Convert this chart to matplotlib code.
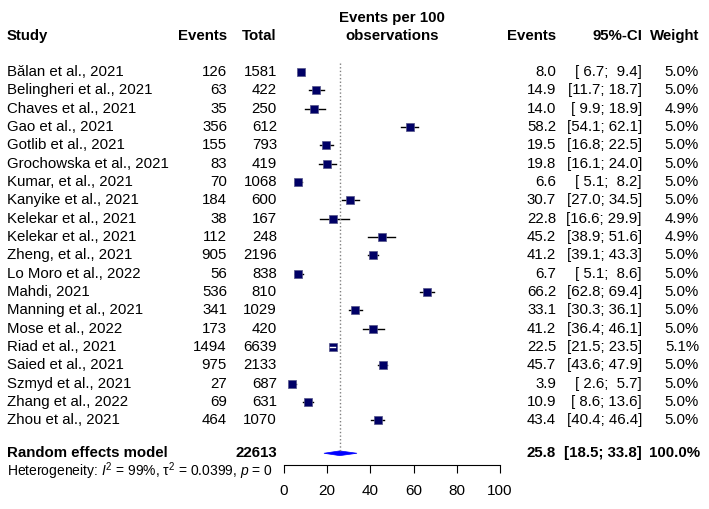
import matplotlib
matplotlib.use("Agg")
from matplotlib import pyplot as plt
from matplotlib import transforms
from matplotlib.patches import Polygon

plt.rcParams['font.family'] = ['Liberation Sans', 'DejaVu Sans']
plt.rcParams['mathtext.fontset'] = 'custom'
plt.rcParams['mathtext.rm'] = 'Liberation Sans'
plt.rcParams['mathtext.it'] = 'Liberation Sans:italic'

studies = ['Bălan et al., 2021', 'Belingheri et al., 2021', 'Chaves et al., 2021', 'Gao et al., 2021',
           'Gotlib et al., 2021', 'Grochowska et al., 2021', 'Kumar, et al., 2021', 'Kanyike et al., 2021',
           'Kelekar et al., 2021', 'Kelekar et al., 2021', 'Zheng, et al., 2021', 'Lo Moro et al., 2022',
           'Mahdi, 2021', 'Manning et al., 2021', 'Mose et al., 2022', 'Riad et al., 2021',
           'Saied et al., 2021', 'Szmyd et al., 2021', 'Zhang et al., 2022', 'Zhou et al., 2021']
events = [126, 63, 35, 356, 155, 83, 70, 184, 38, 112, 905, 56, 536, 341, 173, 1494, 975, 27, 69, 464]
totals = [1581, 422, 250, 612, 793, 419, 1068, 600, 167, 248, 2196, 838, 810, 1029, 420, 6639, 2133, 687, 631, 1070]
est = [8.0, 14.9, 14.0, 58.2, 19.5, 19.8, 6.6, 30.7, 22.8, 45.2, 41.2, 6.7, 66.2, 33.1, 41.2, 22.5, 45.7, 3.9, 10.9, 43.4]
lo = [6.7, 11.7, 9.9, 54.1, 16.8, 16.1, 5.1, 27.0, 16.6, 38.9, 39.1, 5.1, 62.8, 30.3, 36.4, 21.5, 43.6, 2.6, 8.6, 40.4]
hi = [9.4, 18.7, 18.9, 62.1, 22.5, 24.0, 8.2, 34.5, 29.9, 51.6, 43.3, 8.6, 69.4, 36.1, 46.1, 23.5, 47.9, 5.7, 13.6, 46.4]
weights = [5.0, 5.0, 4.9, 5.0, 5.0, 5.0, 5.0, 5.0, 4.9, 4.9, 5.0, 5.0, 5.0, 5.0, 5.0, 5.1, 5.0, 5.0, 5.0, 5.0]

re_total = 22613
re_est, re_lo, re_hi = 25.8, 18.5, 33.8
het_text = r'Heterogeneity: $I^2$ = 99%, τ$^2$ = 0.0399, $p$ = 0'

W, H = 709, 509
fig = plt.figure(figsize=(W / 100, H / 100), dpi=100)
ax = fig.add_axes([284 / W, 0, 216 / W, 1])
row_h = 18.33
ax.set_xlim(0, 100)
ax.set_ylim((H - 72) / row_h, -72 / row_h)
for s in ['top', 'right', 'left']:
    ax.spines[s].set_visible(False)
ax.set_yticks([])
axis_y = (465 - 72) / row_h
ax.spines['bottom'].set_position(('data', axis_y))
ax.spines['bottom'].set_bounds(0, 100)
ax.set_xticks([0, 20, 40, 60, 80, 100])
ax.tick_params(axis='x', length=6, width=0.8, labelsize=11, pad=8)

re_row = 20.8
ax.plot([re_est, re_est], [-0.5, re_row - 0.1], color='gray', ls=(0, (1, 1.6)), lw=1)

for i in range(len(studies)):
    # CI narrower than the square -> white line on top, as meta does
    inside = (hi[i] - lo[i]) < 2.5
    ax.plot([lo[i], hi[i]], [i, i], color='white' if inside else 'black', lw=1, zorder=3 if inside else 1,
            clip_on=False)
    ax.scatter(est[i], i, marker='s', s=weights[i] * 6.5, color='#000066', edgecolors='#555588',
               linewidths=0.5, zorder=2, clip_on=False)

dh = 0.13
ax.add_patch(Polygon([(re_lo, re_row), (re_est, re_row - dh), (re_hi, re_row), (re_est, re_row + dh)],
                     closed=True, facecolor='#0000FF', edgecolor='#0000FF', lw=0.5))

tr = transforms.blended_transform_factory(fig.transFigure, ax.transData)
fs = 10.8


def txt(px, y, s, ha='left', bold=False, size=fs):
    ax.text(px / W, y, s, transform=tr, ha=ha, va='center', fontsize=size,
            fontweight='bold' if bold else 'normal')


hy = (36 - 72) / row_h
txt(7, hy, 'Study', bold=True)
txt(227, hy, 'Events', ha='right', bold=True)
txt(277, hy, 'Total', ha='right', bold=True)
txt(392, (18 - 72) / row_h, 'Events per 100', ha='center', bold=True)
txt(392, (36 - 72) / row_h, 'observations', ha='center', bold=True)
txt(556, hy, 'Events', ha='right', bold=True)
txt(642, hy, '95%-CI', ha='right', bold=True)
txt(699, hy, 'Weight', ha='right', bold=True)

for i in range(len(studies)):
    txt(7, i, studies[i])
    txt(227, i, str(events[i]), ha='right')
    txt(277, i, str(totals[i]), ha='right')
    txt(556, i, '%.1f' % est[i], ha='right')
    txt(642, i, '[%4.1f; %4.1f]' % (lo[i], hi[i]), ha='right')
    txt(699, i, '%.1f%%' % weights[i], ha='right')

txt(7, re_row, 'Random effects model', bold=True)
txt(277, re_row, str(re_total), ha='right', bold=True)
txt(556, re_row, '%.1f' % re_est, ha='right', bold=True)
txt(642, re_row, '[%4.1f; %4.1f]' % (re_lo, re_hi), ha='right', bold=True)
txt(700, re_row, '100.0%', ha='right', bold=True)
txt(7, (471 - 72) / row_h, het_text, size=10)

fig.savefig('out.png', dpi=100)
